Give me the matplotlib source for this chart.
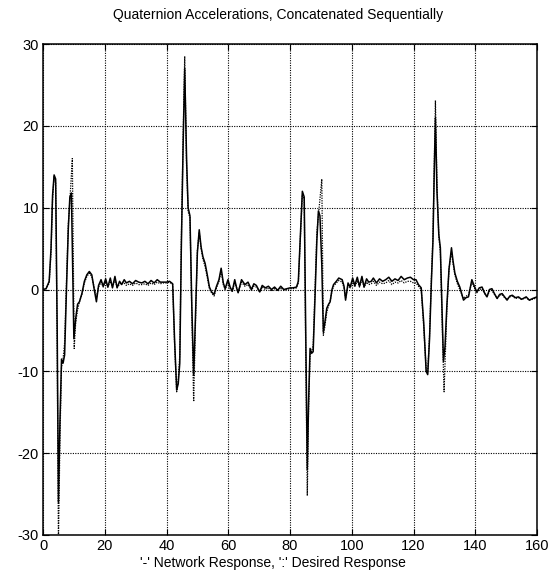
import matplotlib
matplotlib.use("Agg")
import matplotlib.pyplot as plt

# network response (solid line)
t_net = [0, 1.0, 2.0, 2.6, 3.1, 3.6, 4.1, 4.6, 5.0, 5.5, 6.0, 6.5, 7.0, 7.6, 8.2, 8.7, 9.2, 10.0,
         10.6, 11.2, 11.8, 12.6, 13.4, 14.2, 15.0, 15.8, 16.5, 17.3, 18.0, 18.8, 19.5, 20.3, 21.0,
         21.8, 22.5, 23.3, 24.0, 24.8, 25.5, 26.3, 27, 28, 29, 30, 31, 32, 33, 34, 35, 36, 37, 38,
         39, 40, 41.0, 42.0, 42.6, 43.3, 43.8, 44.3, 44.8, 45.4, 45.9, 46.5, 47.0, 47.6, 48.2, 48.8,
         49.4, 50.0, 50.6, 51.2, 51.8, 52.5, 53.2, 53.9, 54.6, 55.4, 56.2, 57.0, 57.7, 58.4, 59.0,
         59.9, 60.6, 61.3, 62.1, 62.7, 63.2, 64.3, 65.4, 66.4, 67.5, 68.3, 69.1, 70.2, 71, 72, 73,
         74, 75, 76, 77, 78, 79, 80, 81, 82.1, 82.7, 83.4, 84.0, 84.6, 85.1, 85.6, 86.0, 86.5, 87.0,
         87.5, 88.1, 88.7, 89.2, 89.7, 90.3, 90.8, 91.3, 91.9, 92.5, 93.0, 93.6, 94.1, 95.0, 95.8,
         96.9, 97.5, 98.0, 98.8, 99.5, 100.3, 101, 101.8, 102.5, 103.3, 104, 104.8, 105.5, 106.3,
         107, 108, 109, 110, 111, 112, 113, 114, 115, 116, 117, 118, 119, 120, 120.8, 121.6, 122.5,
         123.3, 124.1, 124.6, 125.2, 125.8, 126.3, 126.7, 127.1, 127.6, 128.2, 128.7, 129.2, 129.7,
         130.2, 130.8, 131.5, 132.3, 132.8, 133.4, 134.2, 135.0, 136.2, 137.0, 137.8, 138.9, 139.7,
         140.5, 141.3, 142.2, 143.0, 143.8, 144.6, 145.4, 146.2, 147.1, 147.9, 148.7, 149.5, 150.3,
         151.2, 152.0, 153, 154, 155, 156.5, 157.5, 158.6, 159.3, 160]
y_net = [0.0, 0.1, 1.0, 5.0, 11.5, 14.0, 13.5, -5.0, -26.0, -16.0, -8.5, -9.0, -8.0, 0.0, 7.5, 11.3,
         11.8, -6.0, -3.5, -1.8, -1.5, -0.5, 1.0, 1.8, 2.2, 1.8, 0.2, -1.5, 0.5, 1.2, 0.4, 1.3, 0.3,
         1.4, 0.2, 1.6, 0.2, 1.0, 0.6, 1.2, 0.8, 1.0, 0.7, 1.1, 0.9, 0.8, 1.0, 0.7, 1.1, 0.8, 1.2,
         0.9, 0.9, 0.9, 1.0, 0.7, -6.0, -12.3, -11.5, -9.0, 5.0, 18.0, 27.0, 16.0, 10.0, 9.0, -2.0,
         -10.5, -3.0, 4.5, 7.3, 5.2, 4.0, 3.2, 1.8, 0.3, -0.3, -0.6, 0.4, 1.2, 2.6, 0.8, 0.1, 1.2,
         0.3, -0.2, 1.2, 0.2, -0.4, 1.2, 0.6, 0.9, 0.0, 0.7, 0.5, -0.3, 0.5, 0.2, 0.4, 0.0, 0.3,
         -0.1, 0.4, 0.0, 0.1, 0.2, 0.2, 0.3, 1.0, 7.0, 12.0, 11.3, -5.0, -22.0, -14.0, -7.2, -7.8,
         -7.6, -1.0, 6.0, 9.6, 9.0, 3.0, -5.2, -4.0, -2.3, -1.8, -1.5, 0.0, 0.6, 1.0, 1.4, 1.2, 0.4,
         -1.3, 0.8, 0.3, 1.4, 0.5, 1.5, 0.4, 1.6, 0.3, 1.3, 0.9, 1.0, 1.4, 0.8, 1.3, 1.0, 1.2, 1.5,
         1.0, 1.3, 1.1, 1.6, 1.2, 1.4, 1.5, 1.2, 1.2, 0.6, 0.2, -4.0, -10.0, -10.4, -6.0, 1.0, 5.9,
         14.0, 21.0, 12.0, 6.7, 5.1, -2.0, -8.8, -7.0, -2.0, 2.5, 5.1, 3.5, 2.0, 1.0, 0.3, -1.3,
         -1.0, -0.9, 1.2, 0.4, -0.3, 0.2, 0.3, -0.4, -0.9, 0.0, 0.1, -0.5, -1.1, -0.6, -0.5, -0.9,
         -1.3, -0.8, -0.7, -1.0, -0.9, -1.2, -0.9, -1.3, -1.1, -1.0, -0.9]

# desired response (dotted line)
t_des = [0, 1, 2, 2.6, 3.1, 3.6, 4.1, 4.6, 5.0, 5.5, 6.0, 6.5, 7.0, 7.6, 8.2, 8.7, 9.5, 10.1, 10.6,
         11.2, 11.8, 12.6, 13.4, 14.2, 15.0, 15.8, 16.5, 17.3, 18.0, 18.8, 19.5, 20.3, 21.0, 21.8,
         22.5, 23.3, 24.0, 25, 26, 27, 28, 29, 30, 31, 32, 33, 34, 35, 36, 37, 38, 39, 40, 41, 42.0,
         42.6, 43.3, 43.8, 44.3, 44.8, 45.4, 45.9, 46.5, 47.0, 47.6, 48.2, 48.8, 49.4, 50.0, 50.6,
         51.2, 51.8, 52.5, 53.2, 53.9, 54.6, 55.4, 56.2, 57.0, 57.7, 58.4, 59.0, 59.9, 60.6, 61.3,
         62.1, 63.2, 64.3, 65.4, 66.4, 67.5, 68.3, 69.1, 70.2, 71, 72, 73, 74, 75, 76, 77, 78, 79,
         80, 81, 82.1, 82.7, 83.4, 84.0, 84.6, 85.1, 85.6, 86.0, 86.5, 87.0, 87.5, 88.1, 88.7, 89.2,
         90.3, 90.8, 91.3, 91.9, 92.5, 93.0, 93.6, 94.1, 95.0, 95.8, 96.9, 97.5, 98.0, 98.8, 99.5,
         100.3, 101, 101.8, 102.5, 103.3, 104, 104.8, 105.5, 106.3, 107, 108, 109, 110, 111, 112,
         113, 114, 115, 116, 117, 118, 119, 120, 120.8, 121.6, 122.5, 123.3, 124.1, 124.6, 125.2,
         125.8, 126.3, 126.7, 127.1, 127.6, 128.2, 128.7, 129.2, 129.9, 130.4, 130.8, 131.5, 132.3,
         132.8, 133.4, 134.2, 135.0, 136.2, 137.0, 137.8, 138.9, 139.7, 140.5, 141.3, 142.2, 143.0,
         143.8, 144.6, 145.4, 146.2, 147.1, 147.9, 148.7, 149.5, 150.3, 151.2, 152.0, 153, 154, 155,
         156.5, 157.5, 158.6, 159.3, 160]
y_des = [0.0, 0.1, 0.8, 4.5, 11.0, 13.8, 13.0, -8.0, -31.0, -18.0, -9.5, -8.5, -6.5, 1.0, 8.0, 10.8,
         16.0, -7.2, -4.0, -2.5, -1.5, -0.6, 0.8, 1.6, 2.0, 1.6, 0.4, -1.0, 0.3, 0.9, 0.3, 1.0, 0.3,
         1.0, 0.3, 1.2, 0.3, 0.7, 0.9, 0.5, 0.7, 0.5, 0.8, 0.6, 0.6, 0.7, 0.5, 0.8, 0.6, 0.9, 0.7,
         0.8, 0.8, 0.9, 0.6, -6.5, -12.5, -11.0, -8.0, 6.0, 19.0, 28.5, 15.0, 9.5, 8.8, -3.0, -13.7,
         -4.0, 4.8, 7.0, 5.0, 3.7, 2.8, 1.5, 0.1, -0.4, -0.8, 0.2, 1.0, 2.3, 0.6, 0.0, 0.9, 0.1,
         -0.3, 0.9, -0.3, 0.9, 0.4, 0.6, -0.1, 0.4, 0.3, -0.3, 0.3, 0.0, 0.2, -0.2, 0.1, -0.2, 0.2,
         -0.1, 0.0, 0.1, 0.1, 0.2, 0.8, 6.5, 11.6, 11.0, -8.0, -25.2, -15.0, -8.0, -7.6, -6.8, 0.0,
         7.0, 9.0, 13.5, -5.6, -4.5, -2.8, -2.0, -1.4, -0.2, 0.4, 0.8, 1.1, 0.9, 0.2, -1.0, 0.5, 0.2,
         1.0, 0.3, 1.1, 0.3, 1.2, 0.3, 0.9, 0.6, 0.7, 1.0, 0.5, 0.9, 0.7, 0.8, 1.1, 0.6, 0.9, 0.8,
         1.1, 0.8, 1.0, 1.0, 0.8, 0.8, 0.4, 0.0, -4.5, -9.8, -10.2, -5.5, 1.5, 6.5, 15.0, 23.1, 13.0,
         6.5, 4.5, -3.0, -12.5, -7.0, -2.5, 2.5, 4.6, 3.2, 1.8, 0.7, 0.0, -1.1, -0.8, -0.7, 0.9, 0.2,
         -0.4, 0.0, 0.1, -0.5, -0.9, -0.2, -0.1, -0.6, -1.1, -0.7, -0.6, -1.0, -1.2, -0.9, -0.8, -1.1,
         -1.0, -1.2, -1.0, -1.3, -1.2, -1.1, -1.0]

x_ticks = [0, 20, 40, 60, 80, 100, 120, 140, 160]
y_ticks = [-30, -20, -10, 0, 10, 20, 30]

plt.rcParams.update({
    "font.family": ["Liberation Sans", "DejaVu Sans"],
    "font.size": 10,
    "axes.unicode_minus": False,
    "xtick.direction": "in",
    "ytick.direction": "in",
    "xtick.top": True,
    "ytick.right": True,
})

W, H = 548, 584
fig = plt.figure(figsize=(W / 100, H / 100), dpi=100)
ax = fig.add_axes([43 / W, 1 - 535 / H, (537 - 43) / W, (535 - 44) / H])

ax.plot(t_des, y_des, color="black", lw=0.9, ls=(0, (1, 1)))
ax.plot(t_net, y_net, color="black", lw=1.1)

ax.set_xlim(0, 160)
ax.set_ylim(-30, 30)
ax.set_xticks(x_ticks)
ax.set_yticks(y_ticks)
ax.grid(True, color="black", ls=(0, (1, 1.2)), lw=0.8)
ax.tick_params(length=4, width=0.8, labelsize=10.5, pad=3)
for s in ax.spines.values():
    s.set_linewidth(1.1)

fig.text(278 / W, 1 - 15 / H, "Quaternion Accelerations, Concatenated Sequentially",
         ha="center", va="center", fontsize=10)
fig.text(273 / W, 1 - 563 / H, "'-' Network Response, ':' Desired Response",
         ha="center", va="center", fontsize=10)

fig.savefig("out.png", dpi=100, facecolor="white")
